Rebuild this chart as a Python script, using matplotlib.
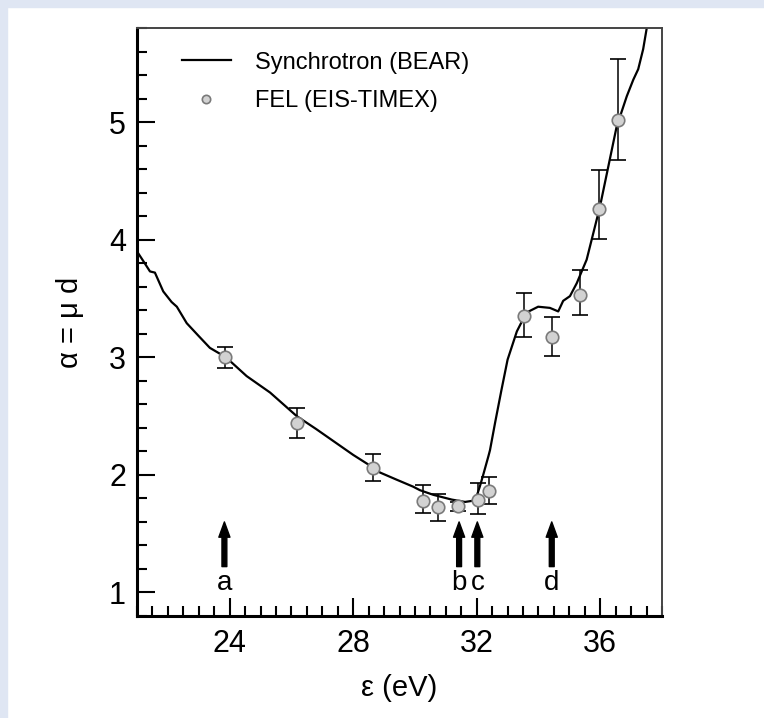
import matplotlib.pyplot as plt
from matplotlib.patches import Rectangle

plt.rcParams['font.family'] = ['Liberation Sans', 'DejaVu Sans']

# synchrotron (BEAR) curve
curve_x = [21.0, 21.2, 21.42, 21.58, 21.85, 22.12, 22.29, 22.61, 23.0, 23.36, 23.88,
           24.55, 25.31, 26.17, 26.8, 27.4, 28.0, 28.6, 28.87, 29.4, 29.94, 30.16,
           30.6, 31.19, 31.62, 31.88, 32.0, 32.1, 32.2, 32.38, 32.43, 32.6, 32.8,
           33.0, 33.3, 33.61, 33.99, 34.37, 34.64, 34.8, 35.02, 35.24, 35.56, 35.78,
           35.99, 36.26, 36.53, 36.86, 37.07, 37.23, 37.39, 37.5, 37.58]
curve_y = [3.90, 3.82, 3.73, 3.72, 3.56, 3.47, 3.43, 3.29, 3.18, 3.08, 3.00,
           2.84, 2.70, 2.50, 2.39, 2.28, 2.17, 2.07, 2.02, 1.96, 1.90, 1.87,
           1.83, 1.79, 1.77, 1.78, 1.82, 1.90, 1.99, 2.16, 2.21, 2.45, 2.72,
           2.98, 3.22, 3.38, 3.43, 3.42, 3.39, 3.48, 3.52, 3.63, 3.83, 4.06,
           4.28, 4.62, 4.96, 5.22, 5.36, 5.45, 5.62, 5.79, 5.95]

# FEL (EIS-TIMEX) points with asymmetric error bars
fel_x = [23.85, 26.17, 28.64, 30.27, 30.76, 31.41, 32.05, 32.41, 33.54, 34.44, 35.35, 35.96, 36.59]
fel_y = [3.00, 2.44, 2.06, 1.78, 1.725, 1.736, 1.787, 1.86, 3.35, 3.17, 3.53, 4.26, 5.02]
err_lo = [0.09, 0.13, 0.11, 0.10, 0.115, 0.045, 0.12, 0.11, 0.18, 0.16, 0.17, 0.25, 0.34]
err_hi = [0.09, 0.13, 0.12, 0.13, 0.115, 0.035, 0.14, 0.12, 0.20, 0.17, 0.21, 0.33, 0.52]

arrow_x = [23.83, 31.43, 32.02, 34.43]
arrow_labels = ['a', 'b', 'c', 'd']

fig = plt.figure(figsize=(7.64, 7.18), dpi=100)
fig.patch.set_facecolor('white')
# light frame strips at top and left of the picture
fig.patches.append(Rectangle((0, 1 - 7/718), 1, 7/718, transform=fig.transFigure,
                             color='#dfe6f3', zorder=0))
fig.patches.append(Rectangle((0, 0), 7/764, 1, transform=fig.transFigure,
                             color='#dfe6f3', zorder=0))

ax = fig.add_axes([137/764, (718-616)/718, (662-137)/764, (616-28)/718])

ax.plot(curve_x, curve_y, color='black', lw=1.6, label='Synchrotron (BEAR)', zorder=2)
ax.errorbar(fel_x, fel_y, yerr=[err_lo, err_hi], fmt='none', ecolor='black',
            elinewidth=1.1, capsize=5.5, capthick=1.2, zorder=3)
ax.plot(fel_x, fel_y, 'o', ms=9, mfc='#d2d2d2', mec='#7a7a7a', mew=1.2, ls='none', zorder=4)
# small legend marker handle
ax.plot([], [], 'o', ms=6, mfc='#d2d2d2', mec='#7a7a7a', mew=1.2, ls='none',
        label='FEL (EIS-TIMEX)')

for xa, lab in zip(arrow_x, arrow_labels):
    ax.annotate('', xy=(xa, 1.60), xytext=(xa, 1.22),
                arrowprops=dict(facecolor='black', edgecolor='black', width=3.5,
                                headwidth=8, headlength=11, shrink=0))
    ax.text(xa, 1.08, lab, ha='center', va='center', fontsize=20)

ax.set_xlim(21, 38)
ax.set_ylim(0.8, 5.8)
ax.set_xticks([24, 28, 32, 36])
ax.set_xticks([x * 0.5 for x in range(42, 77)], minor=True)
ax.set_yticks([1, 2, 3, 4, 5])
ax.set_yticks([0.8 + i * 0.2 for i in range(26)], minor=True)

ax.tick_params(which='both', direction='in', top=False, right=False, labelsize=22, width=1.5)
ax.tick_params(which='major', length=13, pad=8)
ax.tick_params(which='minor', length=7)
ax.tick_params(axis='x', which='major', pad=9)

for s in ['left', 'bottom']:
    ax.spines[s].set_linewidth(2.2)
for s in ['top', 'right']:
    ax.spines[s].set_linewidth(1.4)
    ax.spines[s].set_color('#444444')

ax.set_xlabel('ε (eV)', fontsize=21, labelpad=11)
ax.set_ylabel('α = μ d', fontsize=21, labelpad=18)

ax.legend(loc='upper left', frameon=False, fontsize=17, handlelength=2.1,
          handletextpad=1.0, borderaxespad=0.6, labelspacing=0.7,
          bbox_to_anchor=(0.04, 1.0))

fig.savefig('out.png', dpi=100)
